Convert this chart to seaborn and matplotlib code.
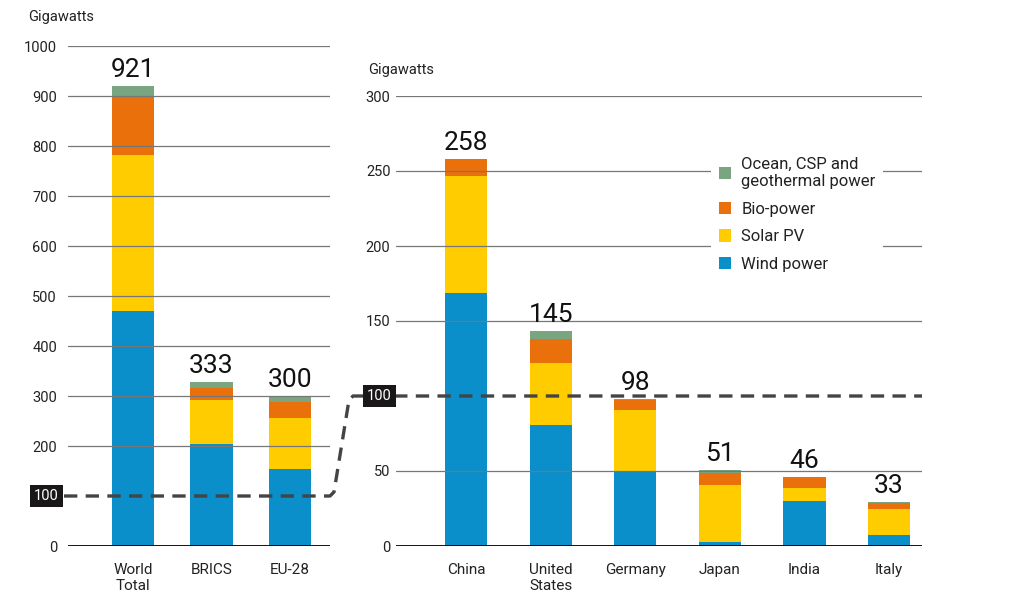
import matplotlib
matplotlib.use("Agg")
import matplotlib.pyplot as plt
from matplotlib.patches import Patch
from matplotlib.lines import Line2D
import seaborn as sns
import pandas as pd

# --- data (gigawatts) ---
groups = ["World\nTotal", "BRICS", "EU-28"]
groups_wind = [470, 204, 154]
groups_solar = [312, 88, 102]
groups_bio = [118, 24, 32]
groups_ocean = [20, 12, 12]
groups_total = [921, 333, 300]

countries = ["China", "United\nStates", "Germany", "Japan", "India", "Italy"]
countries_wind = [169, 81, 50, 3, 30, 7.3]
countries_solar = [78, 41, 41, 38, 8.7, 17.7]
countries_bio = [11, 16, 6.5, 7.5, 7.5, 3.4]
countries_ocean = [0, 5.5, 0.5, 2, 0, 1]
countries_total = [258, 145, 98, 51, 46, 33]

series = ["Ocean, CSP and\ngeothermal power", "Bio-power", "Solar PV", "Wind power"]
colors = ["#79a680", "#ea700c", "#ffcc00", "#0a8fcb"]

sns.set_style("white")
plt.rcParams["font.family"] = ["Roboto", "DejaVu Sans"]
txt = "#222222"


def stacked(ax, cats, wind, solar, bio, ocean, totals, width):
    df = pd.DataFrame({"cat": cats, "wind": wind, "solar": solar,
                       "bio": bio, "ocean": ocean})
    df["c_wind"] = df["wind"]
    df["c_solar"] = df["c_wind"] + df["solar"]
    df["c_bio"] = df["c_solar"] + df["bio"]
    df["c_ocean"] = df["c_bio"] + df["ocean"]
    # draw the tallest layer first, then overlay the lower ones
    for col, c in zip(["c_ocean", "c_bio", "c_solar", "c_wind"], colors):
        sns.barplot(data=df, x="cat", y=col, color=c, saturation=1,
                    width=width, errorbar=None, linewidth=0, ax=ax)
    for i, (top, lab) in enumerate(zip(df["c_ocean"], totals)):
        ax.annotate(str(lab), (i, top), xytext=(0, 3), textcoords="offset points",
                    ha="center", va="bottom", fontsize=19, color="#111111")


def format_axis(ax, ticks, pad):
    "gridlines on top of bars, no spines, no tick marks"
    [ax.spines[s].set_visible(False) for s in ["top", "right", "left", "bottom"]]
    ax.set_yticks(ticks)
    ax.set_axisbelow(False)
    ax.yaxis.grid(True, color="#777777", lw=0.9)
    ax.xaxis.grid(False)
    ax.tick_params(axis="y", length=0, labelsize=10.5, labelcolor=txt, pad=pad)
    ax.tick_params(axis="x", length=0, labelsize=11, labelcolor=txt, pad=12)
    ax.set_xlabel("")
    ax.set_ylabel("")
    ax.axhline(0, color="black", lw=2, zorder=5)


fig = plt.figure(figsize=(10.24, 6.06), dpi=100)
W, H = 1024, 606
ax1 = fig.add_axes([68 / W, 60 / H, 262 / W, 500 / H])
ax2 = fig.add_axes([396 / W, 60 / H, 526 / W, 450 / H])

stacked(ax1, groups, groups_wind, groups_solar, groups_bio, groups_ocean, groups_total, 0.54)
stacked(ax2, countries, countries_wind, countries_solar, countries_bio, countries_ocean,
        countries_total, 0.5)

ax1.set_ylim(0, 1000)
ax1.set_xlim(-0.83, 2.51)
format_axis(ax1, [0, 200, 300, 400, 500, 600, 700, 800, 900, 1000], 8)
ax2.set_ylim(0, 300)
ax2.set_xlim(-0.83, 5.39)
format_axis(ax2, [0, 50, 150, 200, 250, 300], 4)

fig.text(28 / W, 1 - 17 / H, "Gigawatts", fontsize=10.5, color=txt, va="center")
fig.text(368 / W, 1 - 70 / H, "Gigawatts", fontsize=10.5, color=txt, va="center")

# dashed connector at the 100 GW level
to_fig = fig.transFigure.inverted()
y1 = ax1.transData.transform((0, 100))[1]
y2 = ax2.transData.transform((0, 100))[1]
l1 = ax1.transAxes.transform((0, 0))[0]
r1 = ax1.transAxes.transform((1, 0))[0]
l2 = ax2.transAxes.transform((0, 0))[0]
r2 = ax2.transAxes.transform((1, 0))[0]
pts = [(l1 - 4, y1), (r1, y1), (r1 + 4, y1 + 4), (l2 - 47, y2 - 4), (l2 - 43, y2), (r2, y2)]
pts = [to_fig.transform(p) for p in pts]
fig.add_artist(Line2D([p[0] for p in pts], [p[1] for p in pts], color="#444444",
                      lw=2.4, ls=(0, (4, 2.5)), zorder=6))

# boxed "100" labels, on top of the dashed line
for xpix, ypix in [(l1 - 9, y1), (l2 - 4, y2)]:
    fx, fy = to_fig.transform((xpix, ypix))
    fig.text(fx, fy, "100", ha="right", va="center", fontsize=10.5, color="white",
             zorder=10, bbox=dict(boxstyle="square,pad=0.3", fc="#1a1718", ec="none"))

handles = [Patch(facecolor=c, edgecolor="none") for c in colors]
leg = ax2.legend(handles, series, loc="upper left", bbox_to_anchor=(703 / W, 1 - 141 / H),
                 bbox_transform=fig.transFigure, frameon=True, fontsize=12,
                 handlelength=0.75, handleheight=0.75, handletextpad=0.6,
                 labelspacing=0.75, borderpad=0.45, labelcolor=txt)
leg.get_frame().set_facecolor("white")
leg.get_frame().set_edgecolor("none")
leg.get_frame().set_alpha(1)
leg.set_zorder(20)

fig.savefig("out.png", dpi=100)
